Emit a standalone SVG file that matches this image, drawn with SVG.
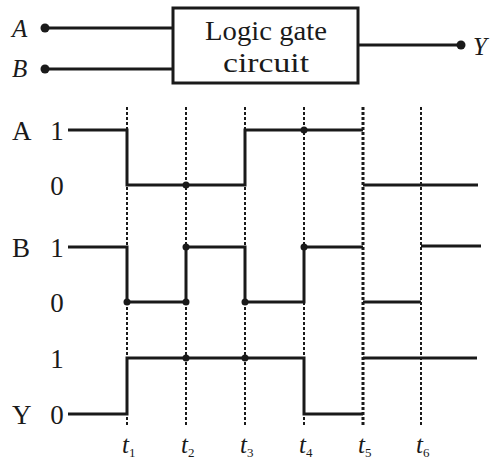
<svg xmlns="http://www.w3.org/2000/svg" width="497" height="462" viewBox="0 0 497 462" font-family="'Liberation Serif', 'Times New Roman', serif">
<style>
text{font-family:'Liberation Serif','Times New Roman',serif;fill:#1a1a1a}
.w{fill:none;stroke:#1a1a1a;stroke-width:3;stroke-linejoin:miter;stroke-linecap:butt}
.g{fill:none;stroke:#1a1a1a;stroke-width:3}
.d{stroke:#1a1a1a;stroke-width:2;stroke-dasharray:3 2}
.dk{stroke:#1a1a1a;stroke-width:3;stroke-dasharray:3 2}
.p{fill:#1a1a1a}
</style>
<rect width="497" height="462" fill="#fff"/>
<g id="gate">
<rect x="173" y="8" width="185" height="75" class="g"/>
<text x="266" y="40" font-size="27" text-anchor="middle" textLength="122" lengthAdjust="spacingAndGlyphs">Logic gate</text>
<text x="266" y="72" font-size="27" text-anchor="middle" textLength="86" lengthAdjust="spacingAndGlyphs">circuit</text>
</g>
<g id="inA">
<circle cx="45" cy="28" r="4.5" class="p"/>
<text x="12" y="37" font-size="25" font-style="italic">A</text>
</g>
<g id="inB">
<circle cx="45" cy="69" r="4.5" class="p"/>
<text x="12" y="77" font-size="25" font-style="italic">B</text>
</g>
<g id="outY">
<circle cx="461" cy="45" r="4.5" class="p"/>
<text x="473" y="55" font-size="25" font-style="italic">Y</text>
</g>
<g id="connectors">
<line x1="45" y1="28" x2="173" y2="28" class="g"/>
<line x1="45" y1="69" x2="173" y2="69" class="g"/>
<line x1="358" y1="45" x2="461" y2="45" class="g"/>
</g>
<g id="gridlines">
<line x1="127" y1="107" x2="127" y2="426" class="d"/>
<line x1="186" y1="107" x2="186" y2="426" class="d"/>
<line x1="245" y1="107" x2="245" y2="426" class="d"/>
<line x1="304" y1="107" x2="304" y2="426" class="d"/>
<line x1="363" y1="107" x2="363" y2="426" class="dk"/>
<line x1="421" y1="107" x2="421" y2="426" class="d"/>
</g>
<g id="labels">
<text x="12" y="140" font-size="27">A</text>
<text x="57" y="140" font-size="27" text-anchor="middle">1</text>
<text x="57" y="195" font-size="27" text-anchor="middle">0</text>
<text x="12" y="257" font-size="27">B</text>
<text x="57" y="257" font-size="27" text-anchor="middle">1</text>
<text x="57" y="312" font-size="27" text-anchor="middle">0</text>
<text x="57" y="368" font-size="27" text-anchor="middle">1</text>
<text x="12" y="424" font-size="27">Y</text>
<text x="57" y="424" font-size="27" text-anchor="middle">0</text>
</g>
<g id="times">
<text x="122" y="453" font-size="25" font-style="italic">t<tspan font-size="13" font-style="normal" dy="4">1</tspan></text>
<text x="181" y="453" font-size="25" font-style="italic">t<tspan font-size="13" font-style="normal" dy="4">2</tspan></text>
<text x="240" y="453" font-size="25" font-style="italic">t<tspan font-size="13" font-style="normal" dy="4">3</tspan></text>
<text x="299" y="453" font-size="25" font-style="italic">t<tspan font-size="13" font-style="normal" dy="4">4</tspan></text>
<text x="358" y="453" font-size="25" font-style="italic">t<tspan font-size="13" font-style="normal" dy="4">5</tspan></text>
<text x="416" y="453" font-size="25" font-style="italic">t<tspan font-size="13" font-style="normal" dy="4">6</tspan></text>
</g>
<g id="waveA">
<polyline class="w" points="68,130 127,130 127,185 245,185 245,130 363,130"/>
<line class="w" x1="363" y1="185" x2="478" y2="185"/>
<circle cx="186" cy="185" r="3.5" class="p"/>
<circle cx="304" cy="130" r="3.5" class="p"/>
</g>
<g id="waveB">
<polyline class="w" points="68,247 127,247 127,302 186,302 186,247 245,247 245,302 304,302 304,247 363,247"/>
<line class="w" x1="363" y1="302" x2="421" y2="302"/>
<line class="w" x1="421" y1="246" x2="481" y2="246"/>
<circle cx="127" cy="302" r="3.5" class="p"/>
<circle cx="186" cy="247" r="3.5" class="p"/>
<circle cx="186" cy="302" r="3.5" class="p"/>
<circle cx="245" cy="302" r="3.5" class="p"/>
<circle cx="304" cy="247" r="3.5" class="p"/>
</g>
<g id="waveY">
<polyline class="w" points="68,414 127,414 127,358 304,358 304,414 363,414"/>
<line class="w" x1="363" y1="358" x2="477" y2="358"/>
<circle cx="186" cy="358" r="3.5" class="p"/>
<circle cx="245" cy="358" r="3.5" class="p"/>
</g>
</svg>
